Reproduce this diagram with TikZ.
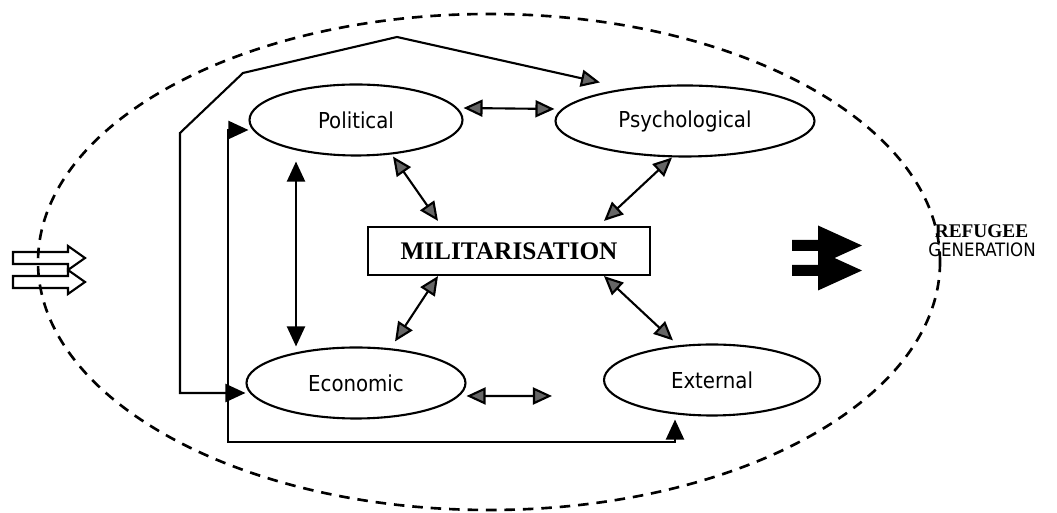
\documentclass[tikz,border=0pt]{standalone}
\usepackage{fontspec}
\newfontfamily\ovalfont{DejaVu Sans Condensed}
\newfontfamily\boxfont{Liberation Serif}
\usepackage{tikz}
\usetikzlibrary{shapes, arrows.meta, positioning, calc}

\tikzset{
  gtip/.tip={Triangle[length=0.38cm, width=0.34cm, fill=black!60]},
  btip/.tip={Triangle[length=0.4cm, width=0.36cm]},
  oval/.style={ellipse, draw, line width=1.2pt, minimum height=1.42cm, inner sep=0pt,
    font=\ovalfont\fontsize{12.5}{14}\selectfont},
  twoway/.style={gtip-gtip, line width=1.2pt},
  feedback/.style={line width=1.2pt},
}

\begin{document}
\begin{tikzpicture}
  \useasboundingbox (0,0) rectangle (21.14,10.26);

  % Outer dashed boundary of the system
  \draw[line width=1.5pt, dash pattern=on 6pt off 4.5pt] (9.78,5.02) ellipse (9.02 and 4.96);

  % The four factors
  \node[oval, minimum width=4.26cm] (pol) at (7.12,7.86) {Political};
  \node[oval, minimum width=5.18cm] (psy) at (13.7,7.84) {Psychological};
  \node[oval, minimum width=4.38cm] (eco) at (7.12,2.6) {Economic};
  \node[oval, minimum width=4.32cm] (ext) at (14.24,2.66) {External};

  % Central box
  \node[draw, line width=1.2pt, minimum width=5.64cm, minimum height=0.96cm,
    font=\boxfont\bfseries\fontsize{14.4}{16}\selectfont] (mil) at (10.18,5.24) {MILITARISATION};

  % Two-way links
  \draw[twoway] ([yshift=0.24cm]pol.east) -- ([yshift=0.24cm]psy.west);
  \draw[twoway] ([xshift=0.74cm]pol.south) -- ([xshift=-1.42cm,yshift=0.1cm]mil.north);
  \draw[twoway] ([xshift=-0.26cm]psy.south) -- ([xshift=1.9cm,yshift=0.1cm]mil.north);
  \draw[twoway] ([xshift=-1.42cm]mil.south) -- ([xshift=0.78cm,yshift=0.1cm]eco.north);
  \draw[twoway] ([xshift=1.9cm]mil.south) -- ([xshift=-0.78cm,yshift=0.06cm]ext.north);
  \draw[twoway] ([yshift=-0.26cm]eco.east) -- ([xshift=-1.02cm,yshift=-0.32cm]ext.west);
  \draw[btip-btip, line width=1.2pt] ([xshift=-1.2cm,yshift=-0.1cm]pol.south) -- ([xshift=-1.2cm]eco.north);

  % Feedback loops round the left side
  \coordinate (outer) at (3.6,7.6);
  \coordinate (bend) at (4.86,8.8);
  \coordinate (apex) at (7.94,9.52);
  \coordinate (inner) at (4.56,1.42);

  \draw[feedback, btip-gtip] ([yshift=-0.2cm]eco.west) -| (outer) -- (bend) -- (apex)
    -- ($(psy.north)+(-1.7,0.04)$);
  \draw[feedback, btip-btip] ([yshift=-0.2cm]pol.west) -| (inner)
    -| ([xshift=-0.74cm,yshift=-0.06cm]ext.south);

  % Input arrows (hollow)
  \foreach \y in {5.1,4.62}
    \draw[line width=1.2pt] (0.26,\y+0.12) -- (1.36,\y+0.12) -- (1.36,\y+0.24) -- (1.7,\y)
      -- (1.36,\y-0.24) -- (1.36,\y-0.12) -- (0.26,\y-0.12) -- cycle;

  % Output arrows (solid)
  \foreach \y in {5.35,4.85}
    \fill (15.84,\y+0.11) -- (16.36,\y+0.11) -- (16.36,\y+0.4) -- (17.24,\y)
      -- (16.36,\y-0.4) -- (16.36,\y-0.11) -- (15.84,\y-0.11) -- cycle;

  % Result
  \node[font=\boxfont\bfseries\fontsize{11}{13}\selectfont, anchor=base] (refugee) at (19.63,5.5) {REFUGEE};
  \node[font=\ovalfont\fontsize{10.5}{12}\selectfont, anchor=base] (generation) at (19.64,5.12) {GENERATION};
\end{tikzpicture}
\end{document}
